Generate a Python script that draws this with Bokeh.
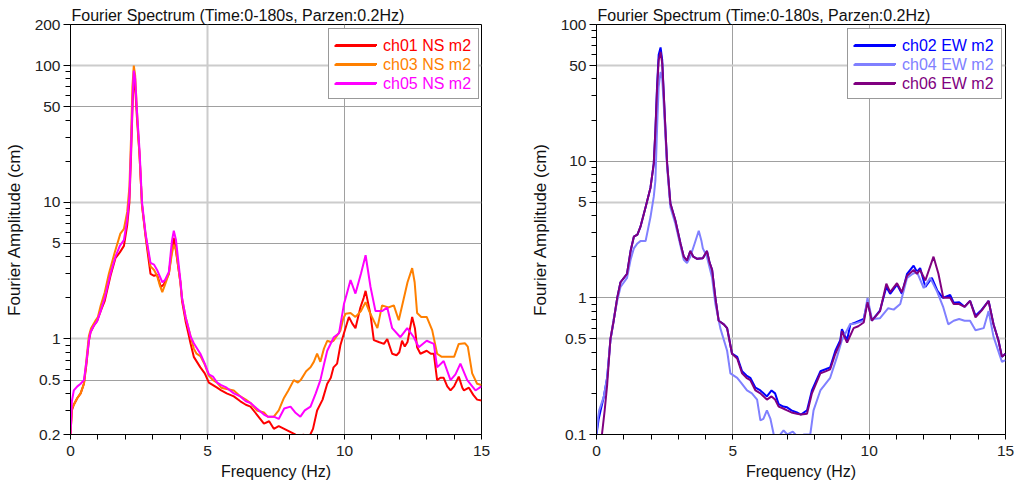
from bokeh.plotting import figure
from bokeh.layouts import row
from bokeh.models import (Range1d, FixedTicker, CustomJSTickFormatter, Legend, LegendItem, Title)
from bokeh.embed import file_html
from bokeh.resources import INLINE

FONT = "Liberation Sans"
TITLE = "Fourier Spectrum (Time:0-180s, Parzen:0.2Hz)"
XLABEL = "Frequency (Hz)"
YLABEL = "Fourier Amplitude (cm)"

# ---------------- left panel (NS) ----------------
f01 = [0.0, 0.05, 0.12, 0.25, 0.37, 0.49, 0.58, 0.67, 0.73, 0.85, 0.97, 1.1, 1.25, 1.46, 1.64, 1.8, 1.95,
       2.07, 2.15, 2.21, 2.27, 2.31, 2.36, 2.43, 2.52, 2.61, 2.74, 2.92, 3.05, 3.16, 3.3, 3.4, 3.59, 3.7,
       3.77, 3.85, 4.01, 4.07, 4.2, 4.3, 4.38, 4.5, 4.74, 4.9, 5.05, 5.2, 5.35, 5.5, 5.7, 5.96, 6.2, 6.4,
       6.57, 6.8, 7.06, 7.25, 7.42, 7.6, 7.8, 8.0, 8.2, 8.35, 8.5, 8.7, 8.85, 9.0, 9.2, 9.37, 9.5, 9.6,
       9.73, 9.85, 9.98, 10.16, 10.28, 10.4, 10.58, 10.7, 10.77, 10.87, 10.95, 11.07, 11.25, 11.44, 11.56,
       11.74, 11.9, 12.0, 12.1, 12.2, 12.3, 12.47, 12.57, 12.65, 12.77, 13.0, 13.15, 13.26, 13.38, 13.5,
       13.62, 13.75, 13.87, 14.0, 14.17, 14.3, 14.36, 14.54, 14.7, 14.84, 15.0]
a01 = [0.2, 0.3, 0.33, 0.37, 0.40, 0.47, 0.65, 0.97, 1.12, 1.25, 1.35, 1.6, 1.9, 2.9, 3.9, 4.3, 4.8,
       6.8, 10, 22, 55, 80, 70, 40, 22, 9.5, 5.6, 3.0, 2.9, 2.95, 2.4, 2.5, 3.0, 4.5,
       5.5, 4.4, 2.6, 1.9, 1.35, 1.1, 0.93, 0.74, 0.62, 0.56, 0.48, 0.46, 0.44, 0.42, 0.40, 0.38, 0.35, 0.33,
       0.32, 0.28, 0.24, 0.25, 0.22, 0.23, 0.22, 0.21, 0.2, 0.19, 0.2, 0.19, 0.22, 0.30, 0.36, 0.47, 0.52, 0.62,
       0.66, 0.9, 1.1, 1.45, 1.3, 1.2, 1.7, 2.0, 2.25, 1.8, 1.5, 0.98, 0.95, 0.92, 1.0,
       0.78, 0.76, 0.8, 0.97, 0.88, 0.95, 1.45, 1.2, 0.87, 0.78, 0.82, 0.78, 0.78, 0.5, 0.52,
       0.52, 0.45, 0.42, 0.45, 0.53, 0.44, 0.42, 0.44, 0.39, 0.36, 0.355]

f03 = [0.0, 0.05, 0.12, 0.25, 0.37, 0.49, 0.58, 0.67, 0.75, 0.9, 1.0, 1.1, 1.25, 1.4, 1.6, 1.82, 1.95,
       2.07, 2.15, 2.21, 2.26, 2.31, 2.36, 2.43, 2.52, 2.61, 2.74, 2.92, 3.05, 3.16, 3.25, 3.35, 3.45, 3.59,
       3.7, 3.77, 3.85, 4.01, 4.07, 4.2, 4.38, 4.5, 4.6, 4.74, 4.9, 5.05, 5.2, 5.35, 5.5, 5.7, 5.96, 6.2,
       6.4, 6.57, 6.8, 7.06, 7.2, 7.42, 7.6, 7.79, 7.95, 8.15, 8.3, 8.4, 8.6, 8.76, 8.88, 9.0, 9.12, 9.25,
       9.37, 9.5, 9.6, 9.85, 9.95, 10.04, 10.22, 10.4, 10.6, 10.77, 10.9, 11.0, 11.2, 11.37, 11.6, 11.8,
       11.98, 12.17, 12.3, 12.47, 12.56, 12.65, 12.8, 13.0, 13.2, 13.38, 13.55, 13.75, 14.0, 14.17, 14.4,
       14.5, 14.66, 14.84, 15.0]
a03 = [0.2, 0.31, 0.33, 0.37, 0.40, 0.47, 0.7, 1.05, 1.2, 1.35, 1.45, 1.75, 2.2, 3.0, 4.2, 5.9, 6.4,
       8.5, 13, 30, 70, 100, 85, 45, 22, 9.5, 5.8, 3.4, 3.2, 2.9, 2.5, 2.2, 2.5, 3.0,
       4.2, 4.9, 4.5, 2.6, 2.0, 1.45, 1.05, 0.85, 0.78, 0.75, 0.65, 0.54, 0.5, 0.48, 0.44, 0.43, 0.42, 0.38,
       0.36, 0.34, 0.3, 0.29, 0.27, 0.27, 0.3, 0.37, 0.42, 0.5, 0.48, 0.5, 0.58, 0.62, 0.68, 0.78, 0.68, 0.85,
       0.97, 0.95, 0.97, 1.15, 1.4, 1.53, 1.55, 1.45, 1.6, 1.86, 1.6, 1.45, 1.2, 1.76, 1.7, 1.76,
       1.37, 2.0, 2.6, 3.3, 2.6, 1.55, 1.45, 1.45, 1.16, 0.78, 0.74, 0.74, 0.74, 0.92, 0.93,
       0.88, 0.56, 0.47, 0.46]

f05 = [0.0, 0.05, 0.12, 0.25, 0.37, 0.49, 0.58, 0.67, 0.73, 0.85, 0.97, 1.1, 1.25, 1.46, 1.64, 1.8, 1.95,
       2.07, 2.15, 2.21, 2.27, 2.31, 2.36, 2.43, 2.52, 2.61, 2.74, 2.92, 3.05, 3.16, 3.35, 3.45, 3.59, 3.7,
       3.77, 3.85, 4.01, 4.07, 4.2, 4.38, 4.5, 4.74, 4.9, 5.05, 5.2, 5.35, 5.5, 5.7, 5.96, 6.2, 6.4, 6.57,
       6.8, 7.06, 7.2, 7.42, 7.6, 7.8, 8.03, 8.2, 8.39, 8.55, 8.76, 8.95, 9.12, 9.25, 9.37, 9.61, 9.8, 9.98,
       10.1, 10.22, 10.4, 10.6, 10.77, 10.95, 11.13, 11.37, 11.56, 11.74, 12.04, 12.29, 12.53, 12.71, 13.0,
       13.26, 13.38, 13.62, 13.87, 14.05, 14.23, 14.48, 14.78, 15.0]
a05 = [0.2, 0.35, 0.42, 0.45, 0.47, 0.5, 0.68, 0.97, 1.12, 1.25, 1.35, 1.6, 2.0, 3.0, 4.0, 4.8, 5.3,
       7.5, 11, 25, 60, 92, 80, 45, 24, 10, 5.9, 3.6, 3.5, 3.2, 2.6, 2.7, 3.1, 5.2,
       6.2, 5.3, 2.7, 2.0, 1.45, 1.05, 0.93, 0.78, 0.66, 0.55, 0.53, 0.48, 0.46, 0.44, 0.4, 0.38, 0.35, 0.34,
       0.31, 0.28, 0.27, 0.27, 0.26, 0.31, 0.32, 0.29, 0.27, 0.3, 0.32, 0.4, 0.5, 0.65, 0.82, 1.03, 1.1, 1.8,
       2.2, 2.7, 2.15, 3.0, 4.1, 2.4, 1.6, 1.6, 1.7, 1.2, 1.03, 1.2, 1.03, 0.87, 0.97,
       0.92, 0.62, 0.69, 0.5, 0.55, 0.66, 0.5, 0.42, 0.45]

# ---------------- right panel (EW) ----------------
f02 = [0.0, 0.08, 0.15, 0.27, 0.39, 0.51, 0.63, 0.76, 0.88, 1.12, 1.25, 1.37, 1.5, 1.61, 1.8, 1.98, 2.1,
       2.16, 2.22, 2.28, 2.35, 2.41, 2.47, 2.53, 2.59, 2.71, 2.89, 3.08, 3.2, 3.32, 3.44, 3.55, 3.69, 3.9,
       4.05, 4.15, 4.24, 4.36, 4.48, 4.67, 4.79, 4.97, 5.16, 5.34, 5.5, 5.64, 5.83, 6.01, 6.25, 6.42, 6.55,
       6.68, 6.85, 6.99, 7.15, 7.35, 7.5, 7.72, 7.9, 8.21, 8.4, 8.57, 8.76, 8.94, 9.0, 9.19, 9.31, 9.5, 9.8,
       9.94, 10.1, 10.4, 10.63, 10.77, 11.02, 11.2, 11.39, 11.63, 11.75, 11.87, 12.06, 12.3, 12.5, 12.7,
       12.97, 13.1, 13.3, 13.5, 13.7, 13.9, 14.13, 14.38, 14.56, 14.74, 14.87, 15.0]
a02 = [0.1, 0.13, 0.15, 0.19, 0.26, 0.49, 0.68, 1.0, 1.3, 1.5, 2.2, 2.8, 2.9, 3.3, 4.6, 6.4, 9.6,
       16.7, 35, 60, 68, 55, 30, 16.7, 9.6, 4.9, 3.7, 2.5, 2.0, 1.87, 2.2, 2.0, 1.93, 1.95,
       2.2, 1.8, 1.6, 1.0, 0.68, 0.64, 0.6, 0.39, 0.37, 0.29, 0.27, 0.26, 0.22, 0.21, 0.19, 0.21, 0.2,
       0.167, 0.16, 0.158, 0.15, 0.145, 0.14, 0.15, 0.21, 0.29, 0.3, 0.31, 0.41, 0.49, 0.59, 0.49, 0.64, 0.66, 0.7,
       0.95, 0.68, 0.81, 1.2, 1.07, 1.25, 1.07, 1.5, 1.72, 1.55, 1.65, 1.2, 1.4, 1.13, 1.0,
       1.05, 0.92, 0.93, 0.86, 0.95, 0.74, 0.82, 0.95, 0.64, 0.49, 0.37, 0.39]

f04 = [0.0, 0.05, 0.1, 0.27, 0.39, 0.51, 0.63, 0.76, 0.88, 1.12, 1.25, 1.37, 1.5, 1.61, 1.8, 1.98, 2.1,
       2.16, 2.22, 2.28, 2.35, 2.41, 2.47, 2.53, 2.59, 2.71, 2.89, 3.08, 3.2, 3.32, 3.44, 3.6, 3.75, 3.85,
       3.9, 4.05, 4.24, 4.36, 4.54, 4.79, 4.91, 5.16, 5.3, 5.52, 5.7, 5.89, 6.01, 6.12, 6.25, 6.38, 6.5,
       6.65, 6.86, 7.0, 7.2, 7.4, 7.6, 7.84, 7.96, 8.21, 8.57, 8.82, 9.0, 9.3, 9.5, 9.8, 9.94, 10.1, 10.4,
       10.7, 10.9, 11.14, 11.39, 11.6, 11.75, 12.0, 12.24, 12.5, 12.72, 12.9, 13.1, 13.3, 13.5, 13.7, 13.9,
       14.2, 14.38, 14.56, 14.87, 15.0]
a04 = [0.1, 0.13, 0.15, 0.19, 0.26, 0.49, 0.7, 0.95, 1.2, 1.4, 1.9, 2.3, 2.5, 2.6, 2.6, 3.9, 5.5,
       7.2, 17, 35, 45, 40, 25, 15, 9, 4.6, 3.5, 2.4, 1.9, 1.8, 2.0, 2.5, 3.1, 2.6,
       2.3, 2.0, 1.4, 0.9, 0.6, 0.41, 0.28, 0.26, 0.24, 0.21, 0.2, 0.18, 0.127, 0.13, 0.15, 0.13, 0.1,
       0.095, 0.107, 0.1, 0.105, 0.095, 0.1, 0.1, 0.15, 0.21, 0.26, 0.37, 0.49, 0.64, 0.65, 0.68, 1.0, 0.7, 0.71,
       0.84, 0.82, 0.9, 1.4, 1.5, 1.55, 1.18, 1.4, 1.1, 0.85, 0.64, 0.68, 0.7, 0.68, 0.68, 0.58,
       0.6, 0.8, 0.52, 0.34, 0.35]

f06 = [0.2, 0.3, 0.39, 0.51, 0.63, 0.76, 0.88, 1.12, 1.25, 1.37, 1.5, 1.61, 1.8, 1.98, 2.1,
       2.16, 2.22, 2.28, 2.35, 2.41, 2.47, 2.53, 2.59, 2.71, 2.89, 3.08, 3.2, 3.32, 3.44, 3.55, 3.69, 3.9,
       4.05, 4.15, 4.24, 4.36, 4.48, 4.67, 4.79, 4.97, 5.16, 5.34, 5.5, 5.64, 5.83, 6.01, 6.25, 6.42, 6.55,
       6.68, 6.85, 6.99, 7.15, 7.35, 7.5, 7.72, 7.9, 8.21, 8.4, 8.57, 8.76, 8.94, 9.0, 9.19, 9.43, 9.6, 9.8,
       9.94, 10.1, 10.4, 10.63, 10.77, 11.02, 11.2, 11.39, 11.63, 11.75, 11.87, 12.06, 12.36, 12.54, 12.72,
       12.97, 13.1, 13.3, 13.5, 13.7, 13.9, 14.13, 14.38, 14.56, 14.74, 14.87, 15.0]
a06 = [0.1, 0.15, 0.23, 0.5, 0.68, 1.0, 1.3, 1.5, 2.2, 2.8, 2.9, 3.3, 4.6, 6.4, 9.6,
       16.7, 33, 55, 63, 52, 30, 16.7, 9.6, 4.9, 3.7, 2.5, 2.0, 1.87, 2.2, 2.0, 1.93, 1.95,
       2.2, 1.8, 1.6, 1.0, 0.68, 0.64, 0.6, 0.39, 0.36, 0.28, 0.26, 0.25, 0.21, 0.2, 0.18, 0.19, 0.18,
       0.16, 0.155, 0.15, 0.145, 0.142, 0.14, 0.142, 0.2, 0.28, 0.29, 0.3, 0.39, 0.47, 0.57, 0.47, 0.6, 0.62, 0.66,
       0.93, 0.68, 0.8, 1.27, 1.1, 1.28, 1.1, 1.45, 1.6, 1.5, 1.6, 1.34, 2.0, 1.5, 1.0,
       1.0, 0.9, 0.9, 0.86, 0.95, 0.72, 0.81, 0.95, 0.64, 0.49, 0.37, 0.39]

x_ticks = [0, 5, 10, 15]
x_minor = [1, 2, 3, 4, 6, 7, 8, 9, 11, 12, 13, 14]
yl_ticks = [0.2, 0.5, 1, 5, 10, 50, 100, 200]
yl_minor = [0.3, 0.4, 0.6, 0.7, 0.8, 0.9, 2, 3, 4, 6, 7, 8, 9, 20, 30, 40, 60, 70, 80, 90]
yr_ticks = [0.1, 0.5, 1, 5, 10, 50, 100]
yr_minor = [0.2, 0.3, 0.4, 0.6, 0.7, 0.8, 0.9, 2, 3, 4, 6, 7, 8, 9, 20, 30, 40, 60, 70, 80, 90]

LIGHT = "#cccccc"
DARK = "#a0a0a0"


def make_panel(y0, y1, yticks, yminor, ygrid_major, ygrid_minor, ygrid_major_light,
               xgrid_major, xgrid_minor, xgrid_major_light,
               frame_w, border_r, series, box_x, box_y):
    p = figure(width=70 + frame_w + border_r, height=484, frame_width=frame_w, frame_height=410,
               min_border_left=70, min_border_right=border_r, min_border_top=24, min_border_bottom=50,
               y_axis_type="log", x_range=Range1d(0, 15), y_range=Range1d(y0, y1),
               output_backend="svg", toolbar_location=None, title=None)
    p.outline_line_color = "black"

    t = Title(text=TITLE, align="left", text_font=FONT, text_font_size="16px",
              text_font_style="normal", text_color="#111111", standoff=2, offset=1)
    p.add_layout(t, "above")

    p.xaxis.ticker = FixedTicker(ticks=x_ticks, minor_ticks=x_minor)
    p.yaxis.ticker = FixedTicker(ticks=yticks, minor_ticks=yminor)
    p.yaxis.formatter = CustomJSTickFormatter(code="return String(tick)")
    for ax in (p.xaxis[0], p.yaxis[0]):
        ax.major_tick_line_color = "black"
        ax.minor_tick_line_color = "black"
        ax.major_tick_in = 0
        ax.minor_tick_in = 0
        ax.major_label_text_font = FONT
        ax.major_label_text_font_size = "15.5px"
        ax.major_label_text_color = "#222222"
        ax.axis_label_text_font = FONT
        ax.axis_label_text_font_style = "normal"
        ax.axis_label_text_color = "#111111"

    p.xaxis.major_tick_out = 5
    p.xaxis.minor_tick_out = 5
    p.xaxis.major_label_standoff = 6
    p.xaxis.axis_label = XLABEL
    p.xaxis.axis_label_text_font_size = "16px"
    p.xaxis.axis_label_standoff = 4

    p.yaxis.major_tick_out = 7
    p.yaxis.minor_tick_out = 5
    p.yaxis.major_label_standoff = 3
    p.yaxis.axis_label = YLABEL
    p.yaxis.axis_label_text_font_size = "17px"
    p.yaxis.axis_label_standoff = 8

    # two grid styles via the default grids' major/minor lines
    yg = p.ygrid[0]
    yg.ticker = FixedTicker(ticks=ygrid_major, minor_ticks=ygrid_minor)
    yg.grid_line_color = LIGHT if ygrid_major_light else DARK
    yg.grid_line_width = 2 if ygrid_major_light else 1
    yg.minor_grid_line_color = DARK if ygrid_major_light else LIGHT
    yg.minor_grid_line_width = 1 if ygrid_major_light else 2

    xg = p.xgrid[0]
    xg.ticker = FixedTicker(ticks=xgrid_major, minor_ticks=xgrid_minor)
    xg.grid_line_color = LIGHT if xgrid_major_light else DARK
    xg.grid_line_width = 2 if xgrid_major_light else 1
    xg.minor_grid_line_color = DARK if xgrid_minor else None
    xg.minor_grid_line_width = 1

    items = []
    for fx, ay, color, label in series:
        r = p.line(fx, ay, line_color=color, line_width=2)
        items.append((r, color, label))

    pad = 6
    row_h = 19
    # boxed legend (frame, white background, line samples)
    frame_leg = Legend(items=[LegendItem(label=lab, renderers=[r]) for r, c, lab in items],
                       location=(box_x, box_y), padding=pad, margin=0, spacing=0,
                       glyph_width=42, glyph_height=row_h, label_height=row_h, label_standoff=7,
                       label_text_alpha=0.0, label_text_font=FONT, label_text_font_size="16px",
                       border_line_color="#333333", border_line_width=1.5,
                       background_fill_color="white", background_fill_alpha=1.0)
    p.add_layout(frame_leg, "center")
    # coloured labels on top of the box
    n = len(items)
    for k, (r, color, label) in enumerate(items):
        leg = Legend(items=[LegendItem(label=label, renderers=[r])],
                     location=(box_x + pad, box_y + pad + (n - 1 - k) * row_h),
                     border_line_alpha=0, background_fill_alpha=0, padding=0, margin=0, spacing=0,
                     glyph_width=42, glyph_height=row_h, label_height=row_h, label_standoff=7,
                     label_text_color=color, label_text_font=FONT, label_text_font_size="16px")
        p.add_layout(leg, "center")
    return p


left = make_panel(0.2, 200, yl_ticks, yl_minor, [1, 10, 100], [0.5, 5, 50], True,
                  [5], [10], True,
                  411, 45,
                  [(f01, a01, "#ff0000", "ch01 NS m2"),
                   (f03, a03, "#ff8000", "ch03 NS m2"),
                   (f05, a05, "#ff00ff", "ch05 NS m2")],
                  258, 335)

right = make_panel(0.1, 100, yr_ticks, yr_minor, [0.5, 5, 50], [1, 10], True,
                   [5, 10], [], False,
                   409, 11,
                   [(f02, a02, "#0000ff", "ch02 EW m2"),
                    (f04, a04, "#8080ff", "ch04 EW m2"),
                    (f06, a06, "#800080", "ch06 EW m2")],
                   251, 335)

layout = row(left, right)
open("out.html", "w").write(file_html(layout, INLINE))
